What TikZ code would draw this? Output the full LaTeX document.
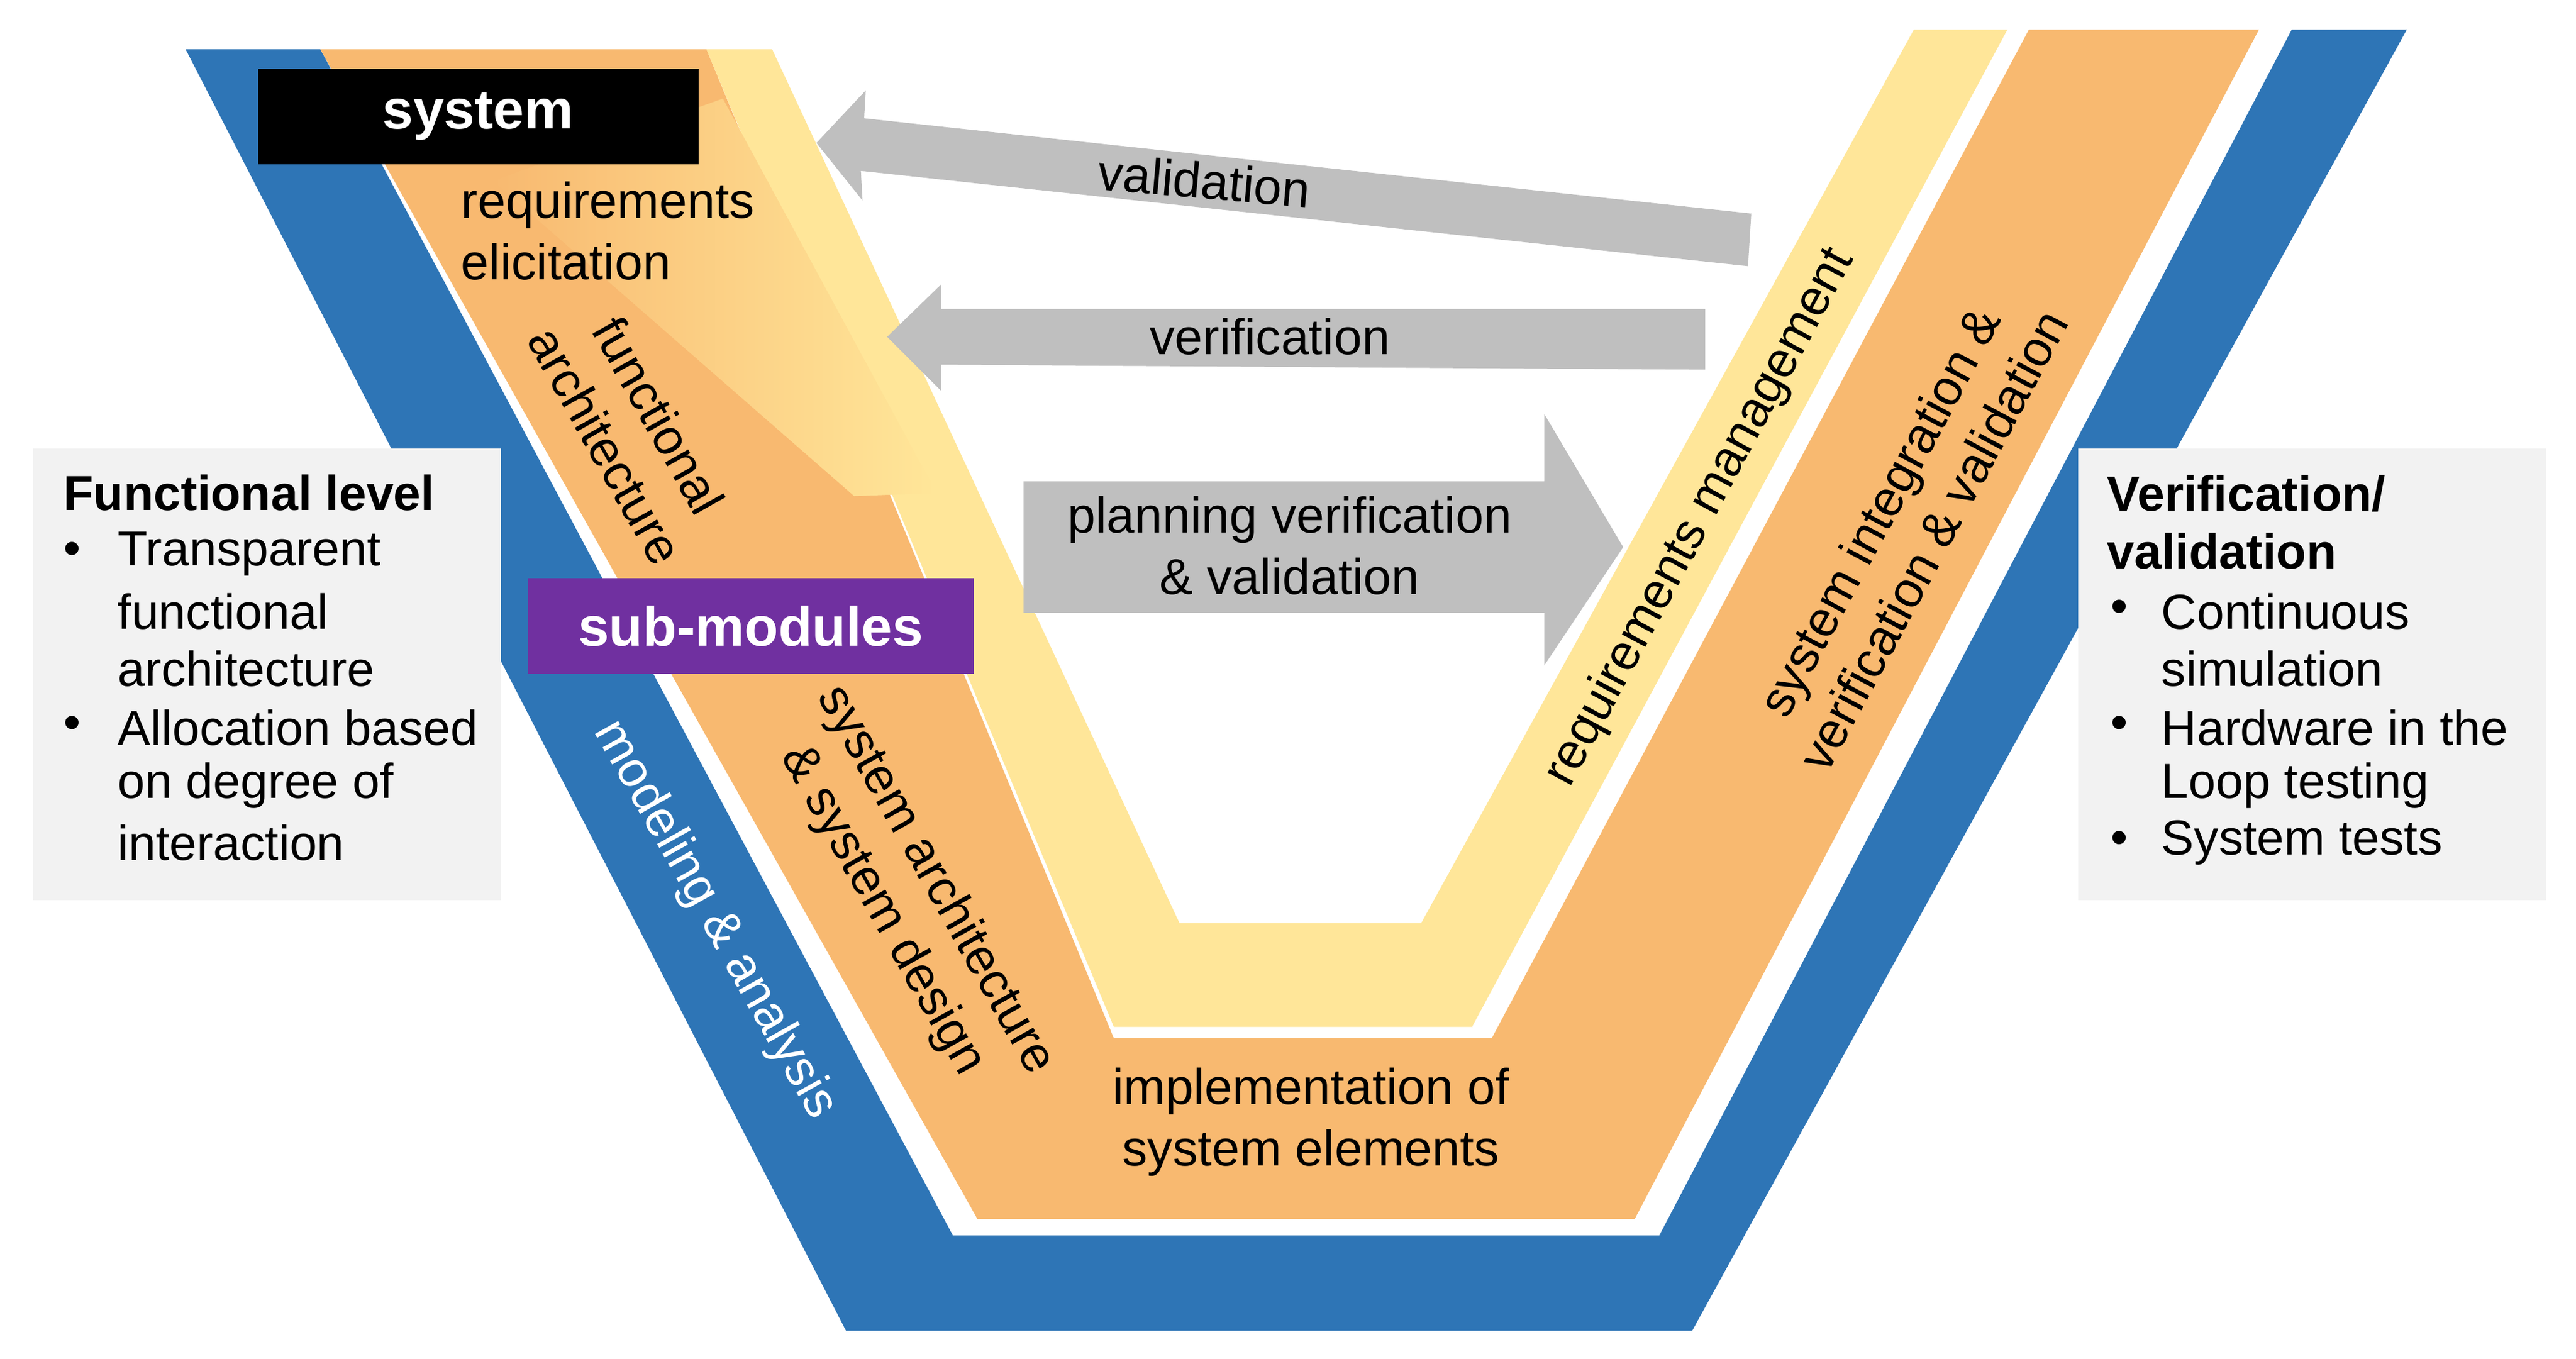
\documentclass[tikz,border=0pt]{standalone}
\usepackage{fontspec}
\setmainfont{Liberation Sans}
\definecolor{vblue}{HTML}{2E75B6}
\definecolor{vorange}{HTML}{F8B970}
\definecolor{vyellow}{HTML}{FFE699}
\definecolor{vgray}{HTML}{BFBFBF}
\definecolor{vbox}{HTML}{F2F2F2}
\definecolor{vpurple}{HTML}{7030A0}
\begin{document}
\begin{tikzpicture}[x=0.01cm,y=-0.01cm,
  txt/.style={font=\fontsize{8.7}{10.6}\selectfont,align=center,inner sep=0},
  ltxt/.style={font=\fontsize{8.5}{10}\selectfont,anchor=west,inner sep=0},
  arr/.style={fill=vgray,draw=none},
  lbl/.style={text=white,font=\fontsize{9.6}{12}\selectfont\bfseries,inner sep=0}]
\useasboundingbox (0,0) rectangle (1568,827);
\fill[white] (0,0) rectangle (1568,827);
% blue V
\fill[vblue] (113,30) -- (515,810) -- (1030,810) -- (1465,18) -- (1395,18) -- (1010,752) -- (580,752) -- (195,30) -- cycle;
% orange V
\fill[vorange] (195,30) -- (595,742) -- (995,742) -- (1375,18) -- (1235,18) -- (908,632) -- (678,632) -- (430,30) -- cycle;
% yellow V
\fill[vyellow] (430,30) -- (678,625) -- (900,625) -- (1225,18) -- (1165,18) -- (865,562) -- (718,562) -- (470,30) -- cycle;
\draw[white,line width=2.5pt] (900,627) -- (1228,16);
% gradient
\shade[left color=vorange,right color=vyellow] (300,110) -- (440,60) -- (570,300) -- (520,302) -- cycle;
% arrows
\fill[arr] (497,87) -- (527,55) -- (526,72) -- (1066,130) -- (1064,162) -- (524,104) -- (525,122) -- cycle;
\fill[arr] (540,205) -- (573,173) -- (573,188) -- (1038,188) -- (1038,225) -- (573,222) -- (573,238) -- cycle;
\fill[arr] (623,293) -- (940,293) -- (940,252) -- (988,333) -- (940,405) -- (940,373) -- (623,373) -- cycle;
\node[txt,rotate=-5] (val) at (733,110) {validation};
\node[txt] (ver) at (773,205) {verification};
\node[txt] (plan) at (785,332) {planning verification\\\& validation};
% labelled boxes
\node[lbl,fill=black,minimum width=2.68cm,minimum height=0.58cm] (sys) at (291,71) {system};
\node[lbl,fill=vpurple,minimum width=2.71cm,minimum height=0.58cm] (sub) at (457,381) {sub-modules};
\node[txt,align=left,anchor=north west] (req) at (280,110) {requirements\\elicitation};
\node[txt,rotate=-60.7] (fa) at (385,262) {functional\\architecture};
\node[txt,rotate=-60.7] (sa) at (553,545) {system architecture\\\& system design};
\node[txt,rotate=-60.7,text=white] (ma) at (435,560) {modeling \& analysis};
\node[txt,rotate=61.8] (rm) at (1035,315) {requirements management};
\node[txt,rotate=61.8] (si) at (1160,320) {system integration \&\\verification \& validation};
\node[txt] (impl) at (798,683) {implementation of\\system elements};
% side boxes
\fill[vbox] (20,273) rectangle (305,548);
\fill[vbox] (1265,273) rectangle (1550,548);
\node[ltxt,font=\fontsize{8.5}{10}\selectfont\bfseries] (fl) at (38,300) {Functional level};
\foreach \y/\b/\t [count=\i] in {337/1/Transparent,372/0/functional,407/0/architecture,443/1/Allocation based,478/0/on degree of,513/0/interaction}{
  \node[ltxt] (l\i) at (71,\y) {\t};
  \ifnum\b=1 \node[ltxt] (lb\i) at (38,\y) {•};\fi
}
\node[ltxt,font=\fontsize{8.5}{10}\selectfont\bfseries,align=left] (vv) at (1282,318) {Verification/\\validation};
\foreach \y/\b/\t [count=\i] in {372/1/Continuous,407/0/simulation,443/1/Hardware in the,478/0/Loop testing,513/1/System tests}{
  \node[ltxt] (r\i) at (1315,\y) {\t};
  \ifnum\b=1 \node[ltxt] (rb\i) at (1284,\y) {•};\fi
}
\end{tikzpicture}
\end{document}
